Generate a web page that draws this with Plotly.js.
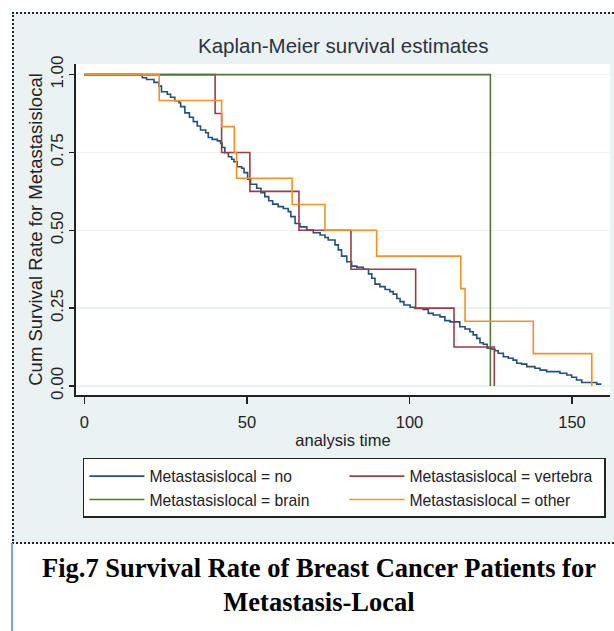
<!DOCTYPE html>
<html>
<head>
<meta charset="utf-8">
<script src="https://cdn.plot.ly/plotly-3.0.1.min.js"></script>
<style>
  html, body { margin: 0; padding: 0; background: #ffffff; }
  #wrap { position: relative; width: 614px; height: 631px; overflow: hidden; }
  #frame { position: absolute; left: 12px; top: 12px; width: 604px; height: 528px;
           background: #eaf2f3; border-left: 2px dotted #222; border-top: 2px dotted #222; border-bottom: 2px dotted #222; }
  #capbar { position: absolute; left: 11px; top: 543px; width: 2px; height: 88px; background: #6fa8dc; }
  #chart { position: absolute; left: 0; top: 0; width: 614px; height: 631px; }
</style>
</head>
<body>
<div id="wrap">
  <div id="frame"></div>
  <div id="capbar"></div>
  <div id="chart"></div>
</div>
<script>
// ---- data ----
const noTime = [0, 17.8, 19.1, 21.4, 22.9, 23.7, 25.5, 26.5, 27.8, 29.1, 29.6, 30.9, 32.3, 33.5, 34.7, 35.7, 37.3, 38.1, 39.3, 40.9,
  41.9, 42.4, 43.2, 44.3, 45.3, 46.0, 47.0, 48.4, 49.1, 50.2, 51.1, 53.0, 54.3, 55.5, 56.7, 57.9, 59.6, 61.2, 62.7, 63.5,
  64.8, 66.3, 68.4, 70.4, 72.5, 74.0, 75.0, 77.1, 78.1, 79.1, 80.7, 82.2, 83.8, 85.8, 87.4, 88.4, 89.4, 90.9, 92.5, 94.0,
  95.0, 96.1, 97.1, 98.3, 100.2, 101.7, 104.2, 105.8, 107.3, 109.4, 110.9, 112.5, 115.5, 117.1, 118.6, 119.6, 120.7, 121.7, 122.7, 123.9,
  125.3, 126.3, 127.3, 128.9, 130.4, 131.9, 133.0, 134.5, 136.1, 138.6, 140.2, 142.2, 146.3, 148.4, 149.9, 151.4, 153.0, 157.6, 158.8];
const noSurv = [1, 0.99, 0.984, 0.975, 0.963, 0.945, 0.937, 0.927, 0.916, 0.910, 0.897, 0.877, 0.863, 0.849, 0.835, 0.822, 0.813, 0.798, 0.792, 0.787,
  0.779, 0.766, 0.749, 0.736, 0.728, 0.720, 0.704, 0.699, 0.685, 0.664, 0.648, 0.635, 0.621, 0.608, 0.595, 0.584, 0.576, 0.570, 0.560, 0.544,
  0.522, 0.511, 0.501, 0.492, 0.485, 0.477, 0.469, 0.453, 0.437, 0.417, 0.399, 0.385, 0.381, 0.375, 0.360, 0.346, 0.327, 0.319, 0.310, 0.303,
  0.295, 0.281, 0.271, 0.260, 0.253, 0.249, 0.246, 0.233, 0.228, 0.222, 0.210, 0.206, 0.190, 0.183, 0.174, 0.164, 0.153, 0.139, 0.134, 0.121,
  0.118, 0.113, 0.105, 0.094, 0.089, 0.083, 0.073, 0.070, 0.062, 0.057, 0.051, 0.046, 0.041, 0.035, 0.028, 0.019, 0.011, 0.006, 0.003];

const vertebraTime = [0, 40.2, 42.2, 50.9, 66.0, 82.0, 101.9, 113.7, 126.1];
const vertebraSurv = [1, 0.875, 0.75, 0.625, 0.5, 0.375, 0.25, 0.125, 0];

const brainTime = [0, 124.9];
const brainSurv = [1, 0];

const otherTime = [0, 23.0, 42.2, 46.1, 46.8, 63.9, 74.0, 89.9, 115.8, 117.1, 138.1, 156.1];
const otherSurv = [1, 0.917, 0.833, 0.75, 0.667, 0.583, 0.5, 0.417, 0.3125, 0.208, 0.104, 0];

const seriesNames = ["Metastasislocal = no", "Metastasislocal = vertebra", "Metastasislocal = brain", "Metastasislocal = other"];
const yTickVals = [0, 0.25, 0.5, 0.75, 1];
const yTickText = ["0.00", "0.25", "0.50", "0.75", "1.00"];
const xTickVals = [0, 50, 100, 150];

// ---- styling ----
const colors = ["#22507c", "#9a3d45", "#55752f", "#ef9422"];
const sans = "Liberation Sans, Arial, sans-serif";

function stepTrace(x, y, name, color) {
  return { x: x, y: y, name: name, type: "scatter", mode: "lines",
           line: { shape: "hv", color: color, width: 1.6 }, hoverinfo: "skip" };
}

const traces = [
  stepTrace(noTime, noSurv, seriesNames[0], colors[0]),
  stepTrace(vertebraTime, vertebraSurv, seriesNames[1], colors[1]),
  stepTrace(brainTime, brainSurv, seriesNames[2], colors[2]),
  stepTrace(otherTime, otherSurv, seriesNames[3], colors[3])
];

const layout = {
  width: 614, height: 631,
  paper_bgcolor: "rgba(0,0,0,0)",
  plot_bgcolor: "#ffffff",
  margin: { l: 76, r: 4, t: 64, b: 236, pad: 0 },
  title: { text: "Kaplan-Meier survival estimates", font: { family: sans, size: 20.5, color: "#2a3440" },
           x: 0.559, xanchor: "center", xref: "container", y: 0.927, yanchor: "middle", yref: "container" },
  showlegend: true,
  legend: { orientation: "h", x: 0.013, y: -0.19, xanchor: "left", yanchor: "top",
            bordercolor: "#222", borderwidth: 1.5, bgcolor: "#ffffff",
            itemwidth: 55, entrywidth: 190, entrywidthmode: "pixels", traceorder: "normal",
            font: { family: sans, size: 15.7, color: "#222" } },
  xaxis: { range: [-2.6, 161.7], tickvals: xTickVals, ticks: "outside", ticklen: 7, tickwidth: 1.5, tickcolor: "#222",
           showline: true, linecolor: "#222", linewidth: 1.6, showgrid: false, zeroline: false,
           ticklabelstandoff: 5,
           tickfont: { family: sans, size: 16.5, color: "#222" },
           title: { text: "analysis time", font: { family: sans, size: 16.5, color: "#222" }, standoff: 4 } },
  yaxis: { range: [-0.029, 1.034], tickvals: yTickVals, ticktext: yTickText, tickangle: -90,
           ticks: "outside", ticklen: 5, tickwidth: 1.5, tickcolor: "#222",
           showline: true, linecolor: "#222", linewidth: 1.6, showgrid: true, gridcolor: "#eaf2f3", gridwidth: 1.5,
           zeroline: false,
           tickfont: { family: sans, size: 17, color: "#222" },
           title: { text: "Cum Survival Rate for Metastasislocal", font: { family: sans, size: 18.5, color: "#222" }, standoff: 0 } },
  annotations: [
    { text: "<b>Fig.7 Survival Rate of Breast Cancer Patients for<br>Metastasis-Local</b>",
      xref: "paper", yref: "paper", x: 0.455, y: -0.575, xanchor: "center", yanchor: "middle",
      showarrow: false, align: "center",
      font: { family: "Liberation Serif, Times New Roman, serif", size: 26.5, color: "#000" } }
  ]
};

Plotly.newPlot("chart", traces, layout, { displayModeBar: false, staticPlot: true });
</script>
</body>
</html>
